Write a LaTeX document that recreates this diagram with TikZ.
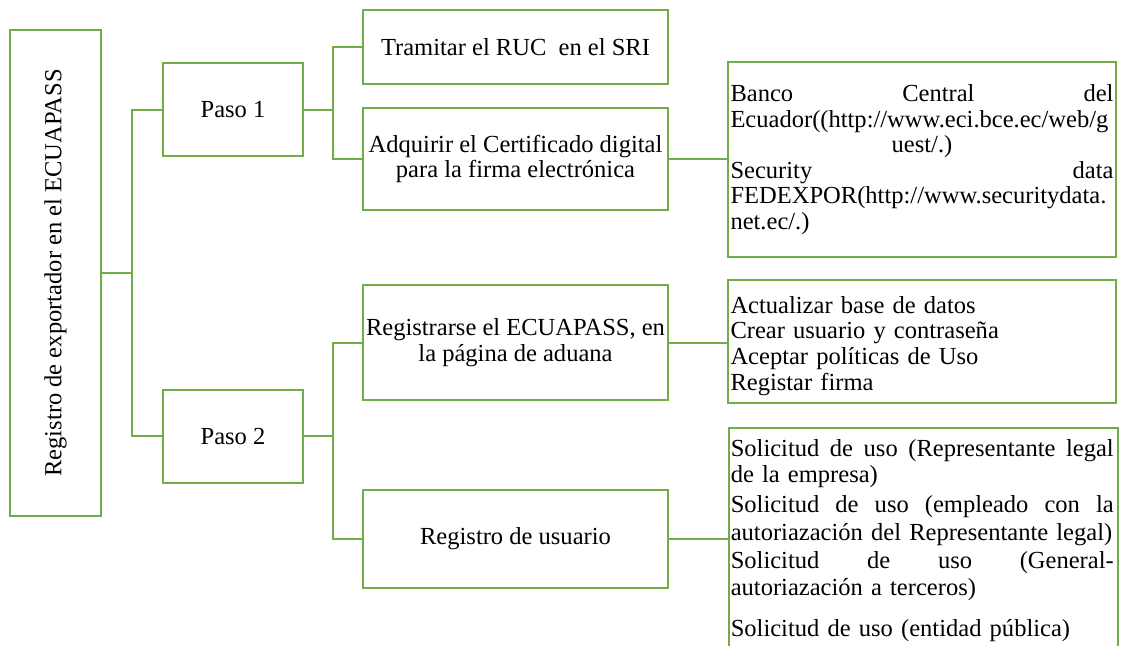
\documentclass[tikz,border=0pt]{standalone}
\usepackage{fontspec}
\setmainfont{Liberation Serif}
\definecolor{ogreen}{HTML}{70AD47}
\newcommand\tfont{\fontsize{18.4}{19.2}\selectfont}
\newcommand\jl[1]{\leavevmode\hbox to \linewidth{#1}}
\begin{document}
\begin{tikzpicture}[x=0.75pt,y=-0.75pt,
  box/.style={draw=ogreen, line width=1.5pt, inner sep=0pt, align=center, font=\tfont},
  wire/.style={draw=ogreen, line width=1.5pt},
  plain/.style={inner sep=0pt, font=\tfont}]
\useasboundingbox (0,0) rectangle (1125,646);

\node[box, minimum width=91*0.75pt, minimum height=486*0.75pt] (root) at (55.5,273)
  {\rotatebox{90}{Registro de exportador en el ECUAPASS}};

\node[box, minimum width=140*0.75pt, minimum height=93*0.75pt] (p1) at (233,109.5) {Paso 1};
\node[box, minimum width=140*0.75pt, minimum height=93*0.75pt] (p2) at (233,436) {Paso 2};

\node[box, minimum width=305*0.75pt, minimum height=74*0.75pt] (t1) at (515.5,47) {Tramitar el RUC\ \ en el SRI};
\node[box, minimum width=305*0.75pt, minimum height=102*0.75pt] (t2) at (515.5,159) {Adquirir el Certificado digital\\para la firma electrónica};
\node[box, minimum width=305*0.75pt, minimum height=115*0.75pt] (r1) at (515.5,342.5) {Registrarse el ECUAPASS, en\\la página de aduana};
\node[box, minimum width=305*0.75pt, minimum height=98*0.75pt] (r2) at (515.5,539) {Registro de usuario};

\node[box, align=left, text width=383*0.75pt, minimum width=388*0.75pt, minimum height=195*0.75pt] (banco) at (922,159.5)
  {\jl{Banco\hfill Central\hfill del}\\
   Ecuador((http://www.eci.bce.ec/web/g\\
   \jl{\hfil uest/.)\hfil}\\
   \jl{Security\hfill data}\\
   FEDEXPOR(http://www.securitydata.\\
   net.ec/.)};

\node[box, align=left, text width=383*0.75pt, minimum width=388*0.75pt, minimum height=123*0.75pt] (act) at (922,341.5)
  {\rule{0pt}{4pt}\\[-4pt]Actualizar base de datos\\Crear usuario y contraseña\\Aceptar políticas de Uso\\Registar firma};

\node[box, anchor=north west, minimum width=389*0.75pt, minimum height=260*0.75pt] (sol) at (728,427) {};
\node[plain, anchor=north west, align=left, text width=383*0.75pt] (solt) at (730.5,439.5)
  {\jl{Solicitud\hfill de\hfill uso\hfill (Representante\hfill legal}\\
   de la empresa)\\[3.3pt]
   \jl{Solicitud\hfill de\hfill uso\hfill (empleado\hfill con\hfill la}\\[1.8pt]
   autoriazación del Representante legal)\\[1.8pt]
   \jl{Solicitud\hfill de\hfill uso\hfill (General-}\\[1pt]
   autoriazación a terceros)\\[11.5pt]
   Solicitud de uso (entidad pública)};

\coordinate (b1) at (132,273);
\coordinate (b2) at (333,109.5);
\coordinate (b3) at (333,436);

\draw[wire] (root.east) -- (b1);
\draw[wire] (p1.west) -| (b1);
\draw[wire] (p2.west) -| (b1);

\draw[wire] (p1.east) -- (b2);
\draw[wire] (t1.west) -| (b2);
\draw[wire] (t2.west) -| (b2);

\draw[wire] (p2.east) -- (b3);
\draw[wire] (r1.west) -| (b3);
\draw[wire] (r2.west) -| (b3);

\draw[wire] (t2.east) -- (t2.east -| banco.west);
\draw[wire] (r1.east) -- (r1.east -| act.west);
\draw[wire] (r2.east) -- (r2.east -| sol.west);
\end{tikzpicture}
\end{document}
